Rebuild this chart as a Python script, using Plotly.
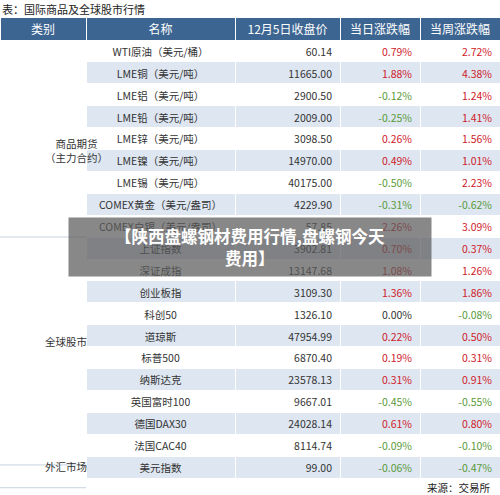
import plotly.graph_objects as go

groups = ["商品期货<br>（主力合约）", "全球股市", "外汇市场"]
group_sizes = [9, 10, 1]
names = ["WTI原油（美元/桶）", "LME铜（美元/吨）", "LME铝（美元/吨）", "LME铅（美元/吨）",
         "LME锌（美元/吨）", "LME镍（美元/吨）", "LME锡（美元/吨）", "COMEX黄金（美元/盎司）",
         "COMEX白银（美元/盎司）", "上证指数", "深证成指", "创业板指", "科创50", "道琼斯",
         "标普500", "纳斯达克", "英国富时100", "德国DAX30", "法国CAC40", "美元指数"]
prices = [60.14, 11665.00, 2900.50, 2009.00, 3098.50, 14970.00, 40175.00, 4229.90, 57.85,
          3902.81, 13147.68, 3109.30, 1326.10, 47954.99, 6870.40, 23578.13, 9667.01,
          24028.14, 8114.74, 99.00]
day_chg = [0.79, 1.88, -0.12, -0.25, 0.26, 0.49, -0.50, -0.31, 2.26, 0.70, 1.08, 1.36,
           0.00, 0.22, 0.19, 0.31, -0.45, 0.61, -0.09, -0.06]
week_chg = [2.72, 4.38, 1.24, 1.41, 1.56, 1.01, 2.23, -0.62, 3.09, 0.37, 1.26, 1.86,
            -0.08, 0.50, 0.31, 0.91, -0.55, 0.80, -0.10, -0.47]

RED, GREEN, BLACK = "#d0202a", "#5a9a3a", "#333333"
W, H = 500, 495
TABLE_TOP = 17  # pixel where the header starts
HEADER_H, ROW_H = 23, 21.9


def chg_color(v):
    if v > 0:
        return RED
    if v < 0:
        return GREEN
    return BLACK


def py(px):
    return 1 - px / H


def ay(px):
    # annotations/shapes came out squeezed vs the table, correct for what was measured
    return py((px - 9.3) / 0.961)


n = len(names)
band = ["white" if i % 2 == 0 else "#dde6f1" for i in range(n)]
white = ["white"] * n

fig = go.Figure(go.Table(
    domain=dict(x=[0, 1], y=[0, py(TABLE_TOP)]),
    columnwidth=[86, 149, 105, 80, 80],
    header=dict(
        values=["类别", "名称", "12月5日收盘价", "当日涨跌幅", "当周涨跌幅"],
        fill_color="#3d6592",
        line_color="white",
        font=dict(color="white", size=12, family="Noto Sans CJK SC"),
        align="center",
        height=HEADER_H,
    ),
    cells=dict(
        values=[[""] * n, names, [f"{p:.2f}" for p in prices],
                [f"{v:.2f}%" for v in day_chg], [f"{v:.2f}%" for v in week_chg]],
        fill_color=[white, band, band, band, band],
        line_color="white",
        font=dict(size=10.5, family="Noto Sans CJK SC",
                  color=[BLACK, BLACK, BLACK,
                         [chg_color(v) for v in day_chg],
                         [chg_color(v) for v in week_chg]]),
        align=["center", "center", "right", "right", "right"],
        height=ROW_H,
    ),
))

# merged category cells: label centred on each group, line under each group
start = 0
for g, size in zip(groups, group_sizes):
    top_px = TABLE_TOP + HEADER_H + start * ROW_H
    bot_px = top_px + size * ROW_H
    fig.add_annotation(text=g, x=86 / 2 / W, y=ay((top_px + bot_px) / 2), xref="paper",
                       yref="paper", showarrow=False,
                       font=dict(size=10.5, color=BLACK, family="Noto Sans CJK SC"))
    fig.add_shape(type="line", xref="paper", yref="paper", x0=0, x1=86 / W,
                  y0=ay(bot_px), y1=ay(bot_px), line=dict(color="#c8d3e0", width=1))
    start += size

fig.add_annotation(text="表：国际商品及全球股市行情", x=0, y=ay(8), xref="paper", yref="paper",
                   xanchor="left", showarrow=False,
                   font=dict(size=11, color="#222", family="Noto Sans CJK SC"))
fig.add_annotation(text="来源：交易所", x=0.985, y=ay(487), xref="paper", yref="paper",
                   xanchor="right", showarrow=False,
                   font=dict(size=10.5, color="#222", family="Noto Sans CJK SC"))
fig.add_annotation(text="<b>【陕西盘螺钢材费用行情,盘螺钢今天<br>费用】</b>",
                   x=0.5, y=ay(247), xref="paper", yref="paper", showarrow=False,
                   bgcolor="rgba(90,90,90,0.72)", width=360, height=56,
                   font=dict(size=16.5, color="white", family="Noto Sans CJK SC"))

fig.update_layout(width=W, height=H, margin=dict(l=0, r=0, t=0, b=0, pad=0),
                  paper_bgcolor="white")
# page body has a default 8px margin that would push the figure off the window
fig.write_html("out.html", config={"displayModeBar": False},
               post_script="document.body.style.margin='0';"
                           "document.body.style.overflow='hidden';")
